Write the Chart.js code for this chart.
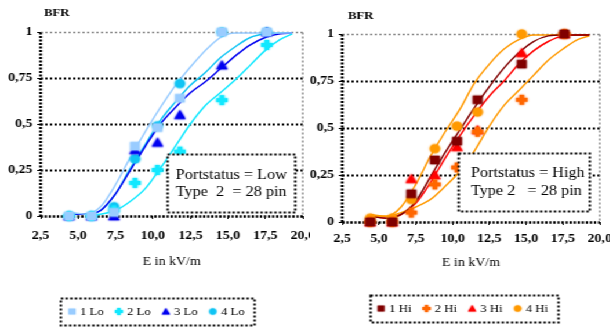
<!DOCTYPE html>
<html>
<head>
<meta charset="utf-8">
<script src="https://cdn.jsdelivr.net/npm/chart.js@4.4.0/dist/chart.umd.min.js"></script>
<style>
  html, body { margin: 0; padding: 0; background: #fff; overflow: hidden; }
  #wrap { display: flex; width: 526px; height: 331px; transform: scaleX(1.16); transform-origin: 0 0; }
  #wrap canvas { display: block; }
</style>
</head>
<body>
<div id="wrap">
  <canvas id="chartLo" width="267" height="331"></canvas>
  <canvas id="chartHi" width="259" height="331"></canvas>
</div>
<script>
// ---------- measured points (E in kV/m, BFR) ----------
const E_LO = [4.4, 5.9, 7.4, 8.8, 10.3, 11.8, 14.6, 17.6];
const LO_1 = [0, 0, 0.02, 0.38, 0.48, 0.64, 1, 1];
const LO_2 = [0, 0, 0.03, 0.18, 0.25, 0.35, 0.63, 0.93];
const LO_3 = [0, 0, 0, 0.36, 0.40, 0.55, 0.82, 1];
const LO_4 = [0, 0, 0.05, 0.31, 0.49, 0.72, 1, 1];

const E_HI = [4.4, 5.9, 7.2, 8.8, 10.3, 11.7, 14.7, 17.6];
const HI_1 = [0, 0, 0.15, 0.33, 0.43, 0.65, 0.84, 1];
const HI_2 = [0, 0, 0.05, 0.20, 0.29, 0.48, 0.65, 1];
const HI_3 = [0, 0, 0.23, 0.25, 0.40, 0.49, 0.90, 1];
const HI_4 = [0.02, 0.02, 0.12, 0.39, 0.51, 0.585, 1, 1];

// ---------- fitted curves ----------
const FIT_E = [4.4, 5.5, 6.5, 7.5, 8.5, 9.5, 10.5, 11.5, 12.5, 13.5, 14.5, 15.5, 16.5, 17.5, 18.5, 19.3];
const FIT_LO_1 = [0.02, 0.01, 0.05, 0.17, 0.32, 0.46, 0.59, 0.71, 0.81, 0.90, 0.97, 0.995, 0.995, 0.995, 0.995, 0.995];
const FIT_LO_2 = [null, 0.0, 0.01, 0.03, 0.08, 0.15, 0.26, 0.38, 0.50, 0.60, 0.67, 0.74, 0.82, 0.90, 0.96, 0.99];
const FIT_LO_3 = [0.01, 0.01, 0.03, 0.12, 0.25, 0.38, 0.50, 0.59, 0.67, 0.73, 0.80, 0.87, 0.93, 0.97, 0.99, 0.995];
const FIT_LO_4 = [0.01, 0.01, 0.03, 0.12, 0.26, 0.39, 0.52, 0.62, 0.71, 0.78, 0.86, 0.92, 0.97, 0.99, 0.995, 0.995];

const FIT_HI_1 = [0.03, 0.02, 0.04, 0.11, 0.24, 0.37, 0.49, 0.61, 0.72, 0.82, 0.90, 0.96, 0.99, 0.995, 0.995, 0.995];
const FIT_HI_2 = [0.03, 0.03, 0.05, 0.08, 0.12, 0.19, 0.27, 0.38, 0.51, 0.62, 0.70, 0.78, 0.86, 0.92, 0.97, 0.99];
const FIT_HI_3 = [0.03, 0.02, 0.04, 0.10, 0.21, 0.34, 0.46, 0.57, 0.67, 0.75, 0.84, 0.91, 0.96, 0.99, 0.995, 0.995];
const FIT_HI_4 = [0.04, 0.03, 0.08, 0.20, 0.35, 0.48, 0.60, 0.74, 0.84, 0.92, 0.97, 0.995, 0.995, 0.995, 0.995, 0.995];

const X_MIN = 2.5, X_MAX = 20, X_STEP = 2.5;
const Y_MIN = 0, Y_MAX = 1, Y_STEP = 0.25;

const SERIF = '"Liberation Serif", "Times New Roman", serif';

// ---------- marker images ----------
function makeMarker(shape, color, s) {
  const c = document.createElement('canvas');
  const n = s + 4;
  c.width = n; c.height = n;
  const g = c.getContext('2d');
  const m = n / 2, r = s / 2;
  g.fillStyle = color;
  g.shadowColor = color;
  g.shadowBlur = 2;
  g.beginPath();
  if (shape === 'square') {
    g.rect(m - r * 0.85, m - r * 0.85, r * 1.7, r * 1.7);
  } else if (shape === 'plus') {
    const w = r * 0.42;
    g.rect(m - w, m - r, 2 * w, 2 * r);
    g.rect(m - r, m - w, 2 * r, 2 * w);
  } else if (shape === 'triangle') {
    g.moveTo(m, m - r);
    g.lineTo(m + r, m + r * 0.85);
    g.lineTo(m - r, m + r * 0.85);
    g.closePath();
  } else {
    g.arc(m, m, r * 0.9, 0, Math.PI * 2);
  }
  g.fill();
  return c;
}

const toPoints = (xs, ys) => xs.map((x, i) => ({ x: x, y: ys[i] }));

function dotted(ctx, x1, y1, x2, y2, color, width, dash) {
  ctx.save();
  ctx.strokeStyle = color;
  ctx.lineWidth = width;
  ctx.setLineDash(dash);
  ctx.beginPath();
  ctx.moveTo(x1, y1);
  ctx.lineTo(x2, y2);
  ctx.stroke();
  ctx.restore();
}

// gridlines, frame and axes, all dotted
const framePlugin = {
  id: 'frame',
  beforeDatasetsDraw(chart) {
    const { ctx, chartArea: a, scales: { y } } = chart;
    for (let v = Y_MIN + Y_STEP; v < Y_MAX; v += Y_STEP) {
      const py = Math.round(y.getPixelForValue(v)) + 0.5;
      dotted(ctx, a.left, py, a.right, py, '#000', 2, [2, 2]);
    }
    const top = Math.round(y.getPixelForValue(Y_MAX)) + 0.5;
    dotted(ctx, a.left, top, a.right, top, '#8a8a8a', 1.5, [2, 2]);
    dotted(ctx, a.right, top, a.right, a.bottom, '#8a8a8a', 1.5, [2, 2]);
    const bottom = Math.round(y.getPixelForValue(Y_MIN)) + 0.5;
    dotted(ctx, a.left, bottom, a.right, bottom, '#000', 2.5, [2, 1.5]);
    dotted(ctx, a.left, top, a.left, bottom, '#000', 2.5, [2, 1.5]);
  },
  afterDraw(chart, args, opts) {
    const ctx = chart.ctx;
    ctx.save();
    ctx.fillStyle = '#000';
    ctx.textBaseline = 'middle';

    // axis caption
    ctx.font = 'bold 11px ' + SERIF;
    ctx.fillText('BFR', opts.bfr.x, opts.bfr.y);

    // note box, white filled over the plot
    const n = opts.note;
    ctx.save();
    ctx.fillStyle = '#fff';
    ctx.fillRect(n.x, n.y, n.w, n.h);
    ctx.strokeStyle = '#000';
    ctx.lineWidth = 2;
    ctx.setLineDash([2, 2]);
    ctx.strokeRect(n.x, n.y, n.w, n.h);
    ctx.restore();
    ctx.font = '14px ' + SERIF;
    n.lines.forEach((t, i) => ctx.fillText(t, n.tx, n.ty[i]));

    // legend box
    const items = chart.data.datasets.filter(d => d.label);
    ctx.font = '11px ' + SERIF;
    const mk = 8, gap = 3, space = 9;
    const widths = items.map(d => mk + gap + ctx.measureText(d.label).width);
    const total = widths.reduce((s, w) => s + w, 0) + space * (items.length - 1);
    const L = opts.legend;
    const bx = L.cx - total / 2 - 6, bw = total + 14, bh = 27;
    ctx.save();
    ctx.strokeStyle = '#000';
    ctx.lineWidth = 2;
    ctx.setLineDash([2, 2]);
    ctx.strokeRect(Math.round(bx) + 0.5, Math.round(L.cy - bh / 2) + 0.5, Math.round(bw), bh);
    ctx.restore();
    let x = L.cx - total / 2;
    items.forEach((d, i) => {
      ctx.drawImage(d.pointStyle, x - 1, L.cy - mk / 2 - 1, mk + 2, mk + 2);
      ctx.fillText(d.label, x + mk + gap, L.cy + 0.5);
      x += widths[i] + space;
    });
    ctx.restore();
  }
};

function makeChart(id, cfg) {
  const datasets = [];
  cfg.marks.forEach(m => {
    datasets.push({
      label: m.label,
      data: toPoints(cfg.xs, m.ys),
      pointStyle: makeMarker(m.shape, m.color, 10),
      pointRadius: 5,
      showLine: false,
      clip: false,
      order: 0
    });
  });
  cfg.curves.forEach(c => {
    datasets.push({
      label: '',
      data: toPoints(FIT_E, c.ys),
      showLine: true,
      borderColor: c.color,
      borderWidth: 1.5,
      pointRadius: 0,
      cubicInterpolationMode: 'monotone',
      order: 1
    });
  });

  const tickFont = { family: SERIF, size: 12, weight: 'bold' };

  return new Chart(document.getElementById(id), {
    type: 'scatter',
    data: { datasets: datasets },
    plugins: [framePlugin],
    options: {
      responsive: false,
      animation: false,
      events: [],
      layout: {
        padding: { left: 0, top: cfg.top, right: cfg.padRight, bottom: 331 - cfg.bottom - cfg.xAxisH }
      },
      plugins: {
        legend: { display: false },
        tooltip: { enabled: false },
        frame: { bfr: cfg.bfr, note: cfg.note, legend: cfg.legend }
      },
      scales: {
        x: {
          type: 'linear',
          min: X_MIN, max: X_MAX,
          border: { display: false },
          grid: { display: true, drawOnChartArea: false, drawTicks: true, tickLength: 3, tickColor: '#000' },
          ticks: {
            stepSize: X_STEP,
            color: '#000',
            font: tickFont,
            padding: cfg.tickPad,
            maxRotation: 0,
            autoSkip: false,
            callback: v => v.toFixed(1).replace('.', ',')
          },
          title: {
            display: true,
            text: 'E in kV/m',
            color: '#000',
            font: { family: SERIF, size: 12 },
            padding: 0
          },
          afterFit: s => { s.height = cfg.xAxisH; s.paddingLeft = 0; s.paddingRight = 0; }
        },
        y: {
          min: Y_MIN, max: Y_MAX,
          border: { display: false },
          grid: { display: true, drawOnChartArea: false, drawTicks: true, tickLength: 3, tickColor: '#000' },
          ticks: {
            stepSize: Y_STEP,
            color: '#000',
            font: tickFont,
            padding: 4,
            callback: v => (v === 0 || v === 1) ? String(v) : String(v).replace('.', ',')
          },
          afterFit: s => { s.width = cfg.plotLeft; s.paddingTop = 0; s.paddingBottom = 0; }
        }
      }
    }
  });
}

makeChart('chartLo', {
  xs: E_LO,
  marks: [
    { label: '1 Lo', ys: LO_1, color: '#99CCFF', shape: 'square' },
    { label: '2 Lo', ys: LO_2, color: '#11E8FF', shape: 'plus' },
    { label: '3 Lo', ys: LO_3, color: '#0000F0', shape: 'triangle' },
    { label: '4 Lo', ys: LO_4, color: '#10C4F4', shape: 'circle' }
  ],
  curves: [
    { ys: FIT_LO_1, color: '#99CCFF' },
    { ys: FIT_LO_2, color: '#11E8FF' },
    { ys: FIT_LO_3, color: '#0000F0' },
    { ys: FIT_LO_4, color: '#10C4F4' }
  ],
  plotLeft: 35, padRight: 4, top: 32, bottom: 216, xAxisH: 53, tickPad: 10,
  bfr: { x: 38, y: 13.5 },
  note: { x: 144.5, y: 154.5, w: 110, h: 58, tx: 151.5, ty: [175, 192],
          lines: ['Portstatus = Low', 'Type  2  = 28 pin'] },
  legend: { cx: 134.5, cy: 311.5 }
});

makeChart('chartHi', {
  xs: E_HI,
  marks: [
    { label: '1 Hi', ys: HI_1, color: '#800000', shape: 'square' },
    { label: '2 Hi', ys: HI_2, color: '#FF6600', shape: 'plus' },
    { label: '3 Hi', ys: HI_3, color: '#FF0000', shape: 'triangle' },
    { label: '4 Hi', ys: HI_4, color: '#FF9900', shape: 'circle' }
  ],
  curves: [
    { ys: FIT_HI_1, color: '#800000' },
    { ys: FIT_HI_2, color: '#FF9900' },
    { ys: FIT_HI_3, color: '#FF0000' },
    { ys: FIT_HI_4, color: '#FF9900' }
  ],
  plotLeft: 28, padRight: 9, top: 34, bottom: 222, xAxisH: 48, tickPad: 7,
  bfr: { x: 33, y: 16 },
  note: { x: 128.5, y: 153.5, w: 113, h: 58, tx: 139, ty: [173, 191],
          lines: ['Portstatus = High', 'Type 2   = 28 pin'] },
  legend: { cx: 131.5, cy: 308.5 }
});
</script>
</body>
</html>
